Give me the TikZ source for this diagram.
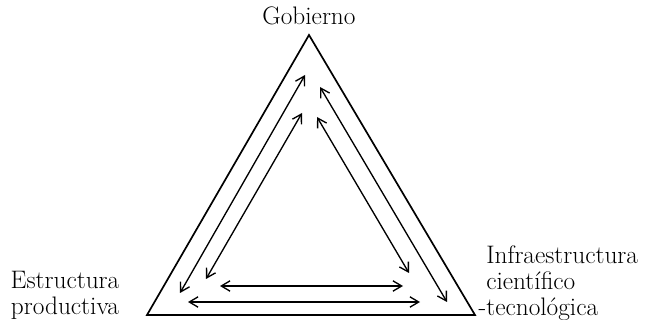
\documentclass[tikz,border=0pt]{standalone}
\usepackage{tikz}
\usetikzlibrary{arrows.meta,positioning,calc}

\begin{document}
\begin{tikzpicture}[x=0.025cm, y=-0.025cm, font=\fontsize{18}{18.5}\selectfont,
  >={Straight Barb[length=2.2mm, width=2.6mm]},
  side/.style={line width=1.2pt, line join=miter},
  link/.style={<->, line width=0.95pt},
  lbl/.style={inner sep=0pt, anchor=base}]
\useasboundingbox (0,0) rectangle (645,320);
% vertices
\coordinate (gob) at (309,35);
\coordinate (est) at (147,315);
\coordinate (inf) at (475,315);
\draw[side] (est) -- (gob) -- (inf) -- cycle;
% labels
\node[lbl] (tgob) at (309,25) {Gobierno};
\node[lbl, align=center] (test) at (65,315) {Estructura\\ productiva};
\node[lbl, align=left, anchor=base west] (tinf) at (486,316) {Infraestructura\\ científico\\ \hspace*{-0.3em}-tecnológica};
% arrow ends
\coordinate (lo1) at (305,75);  \coordinate (lo2) at (180,293);
\coordinate (li1) at (302,113); \coordinate (li2) at (206,279);
\coordinate (ro1) at (320,87);  \coordinate (ro2) at (447,302);
\coordinate (ri1) at (317,117); \coordinate (ri2) at (409,273);
\coordinate (bi1) at (220,286); \coordinate (bi2) at (403,286);
\coordinate (bo1) at (188,302); \coordinate (bo2) at (420,302);
% two-way relations
\draw[link] (lo1) -- (lo2);
\draw[link] (li1) -- (li2);
\draw[link] (ro1) -- (ro2);
\draw[link] (ri1) -- (ri2);
\draw[link] (bi1) -- (bi2);
\draw[link] (bo1) -- (bo2);
\end{tikzpicture}
\end{document}
